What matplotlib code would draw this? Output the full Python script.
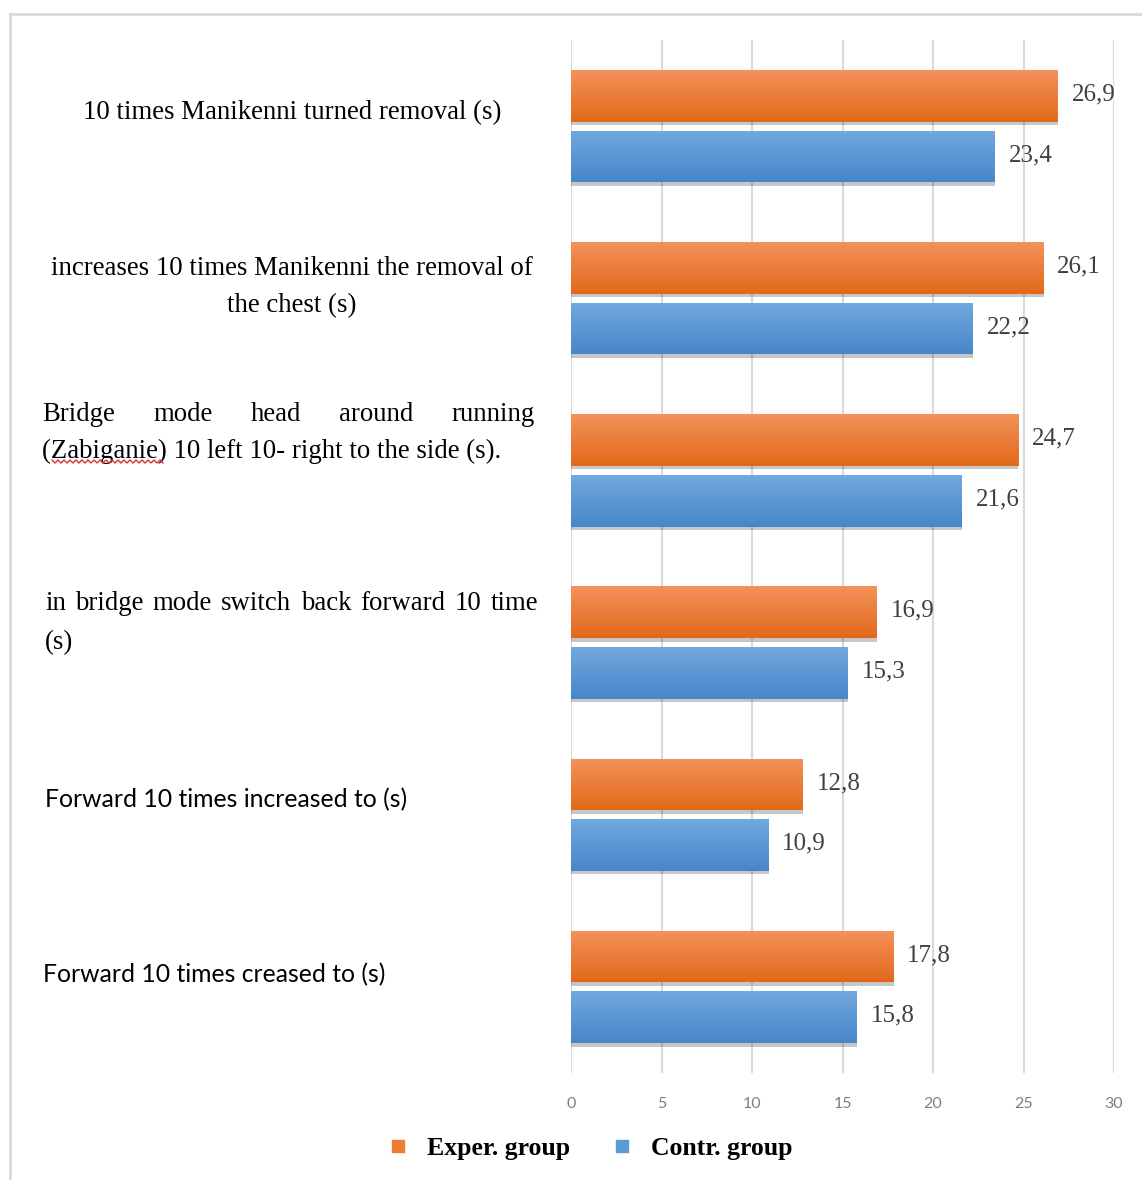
import numpy as np
import matplotlib
matplotlib.use('Agg')
import matplotlib.pyplot as plt
from matplotlib import transforms
from matplotlib.lines import Line2D
import matplotlib.patheffects as pe

# data
categories = [
    "10 times Manikenni turned removal (s)",
    "increases 10 times Manikenni the removal of\nthe chest (s)",
    "Bridge mode head around running\n(Zabiganie) 10 left 10- right to the side (s).",
    "in bridge mode switch back forward 10 time\n(s)",
    "Forward 10 times increased to (s)",
    "Forward 10 times creased to (s)",
]
exper = [26.9, 26.1, 24.7, 16.9, 12.8, 17.8]
contr = [23.4, 22.2, 21.6, 15.3, 10.9, 15.8]
series_names = ["Exper. group", "Contr. group"]
xticks = [0, 5, 10, 15, 20, 25, 30]

W, H = 1142, 1180
fig = plt.figure(figsize=(W / 100, H / 100), dpi=100)

def fx(x):
    return x / W

def fy(y):
    return 1 - y / H

# frame around the picture (only left and top show)
fig.add_artist(Line2D([fx(9.5), fx(9.5)], [fy(13.5), 0], color='#d9d9d9', lw=2))
fig.add_artist(Line2D([fx(9.5), 1], [fy(13.5), fy(13.5)], color='#d9d9d9', lw=2))

ax = fig.add_axes([fx(571), fy(1073), fx(1114) - fx(571), fy(40) - fy(1073)])

y = np.arange(len(categories))
off = 0.176
bh = 0.30
shadow = [pe.SimplePatchShadow(offset=(0.3, -2.5), shadow_rgbFace='k', alpha=0.22), pe.Normal()]
b1 = ax.barh(y - off, exper, height=bh, color='#ED7D31', path_effects=shadow, zorder=2)
b2 = ax.barh(y + off, contr, height=bh, color='#5B9BD5', path_effects=shadow, zorder=2)

# gradient fill on each bar
def grad(bars, top, bottom):
    c1 = np.array(matplotlib.colors.to_rgb(top))
    c2 = np.array(matplotlib.colors.to_rgb(bottom))
    t = np.linspace(0, 1, 64)[:, None]
    img = (c1 * (1 - t) + c2 * t)[:, None, :]
    for b in bars:
        x0, y0 = b.get_x(), b.get_y()
        w, h = b.get_width(), b.get_height()
        im = ax.imshow(img, extent=(x0, x0 + w, y0 + h, y0), aspect='auto',
                       origin='upper', zorder=3, interpolation='bilinear')
        im.set_clip_path(b)

grad(b1, '#F3925A', '#E2691B')
grad(b2, '#72A9DE', '#4786CA')

for bars, vals in ((b1, exper), (b2, contr)):
    for b, v in zip(bars, vals):
        ax.annotate(f"{v:.1f}".replace('.', ','), (v, b.get_y() + b.get_height() / 2),
                    xytext=(10, 1), textcoords='offset points', va='center', ha='left',
                    fontsize=18, family='Liberation Serif', color='#404040')

ax.set_xlim(0, 30)
ax.set_ylim(len(categories) - 0.5, -0.5)
ax.set_xticks(xticks)
ax.set_yticks([])
ax.tick_params(axis='x', length=0, pad=17, labelsize=11.5, labelcolor='#7f7f7f')
for lab in ax.get_xticklabels():
    lab.set_family('Lato')
ax.grid(axis='x', color='#d9d9d9', lw=1.5, zorder=0)
ax.set_axisbelow(True)
for s in ax.spines.values():
    s.set_visible(False)

# category labels on the left
tr = transforms.blended_transform_factory(fig.transFigure, ax.transData)
unit = 172.2
layout = [
    # align, family, first line offset (px), line step (px)
    ('center', 'Liberation Serif', -13, 0),
    ('center', 'Liberation Serif', -30, 37),
    ('justify', 'Liberation Serif', -56, 37),
    ('justify', 'Liberation Serif', -39, 39),
    ('left', 'Lato', -15, 0),
    ('left', 'Lato', -12, 0),
]
lefts = [None, None, 42, 45, 45, 43]
rights = [None, None, 535, 538, None, None]
renderer = fig.canvas.get_renderer()
for i, (cat, (align, fam, first, step)) in enumerate(zip(categories, layout)):
    lines = cat.split('\n')
    size = 19.3 if fam == 'Liberation Serif' else 17.8
    for j, line in enumerate(lines):
        yy = i + (first + j * step) / unit
        if align == 'center':
            ax.text(fx(292), yy, line, transform=tr, ha='center', va='center',
                    fontsize=size, family=fam, color='black')
        elif align == 'justify' and j == 0:
            words = line.split()
            ts = [ax.text(0, yy, w_, transform=tr, ha='left', va='center',
                          fontsize=size, family=fam, color='black') for w_ in words]
            widths = [t.get_window_extent(renderer).width for t in ts]
            gap = (rights[i] - lefts[i] - sum(widths)) / (len(words) - 1)
            x = lefts[i]
            for t, wd in zip(ts, widths):
                t.set_x(fx(x))
                x += wd + gap
        else:
            ax.text(fx(lefts[i]), yy, line, transform=tr, ha='left', va='center',
                    fontsize=size, family=fam, color='black')

# red spell-check squiggle under "Zabiganie"
zx = np.arange(52, 164, 3)
zy = np.where(np.arange(len(zx)) % 2 == 0, 460, 463)
fig.add_artist(Line2D(fx(zx), fy(zy), color='#e03030', lw=1))

handles = [Line2D([], [], marker='s', ls='', markersize=9, color='#ED7D31'),
           Line2D([], [], marker='s', ls='', markersize=9, color='#5B9BD5')]
fig.legend(handles, series_names, loc='center', bbox_to_anchor=(fx(590), fy(1148)),
           ncol=2, frameon=False, handlelength=0.8, handletextpad=0.75, columnspacing=1.6,
           prop={'family': 'Liberation Serif', 'weight': 'bold', 'size': 18.5})

fig.savefig('out.png', dpi=100)
